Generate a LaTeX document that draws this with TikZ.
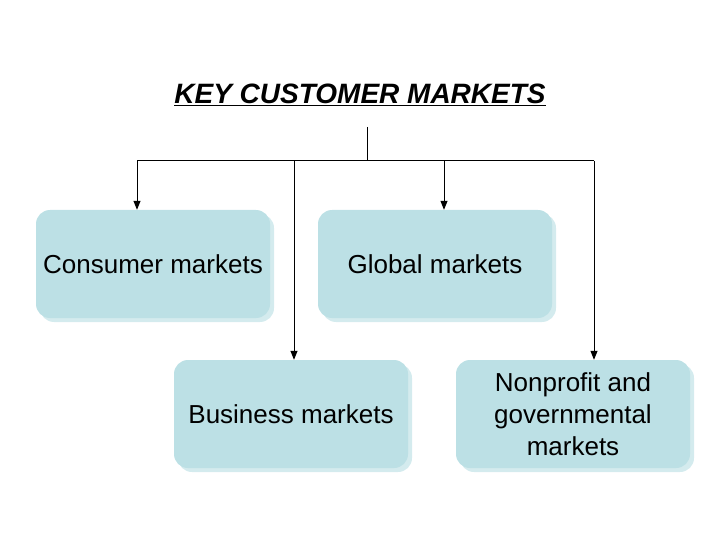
\documentclass[tikz,border=0pt]{standalone}
\usepackage{fontspec}
\setmainfont{Liberation Sans}
\usetikzlibrary{arrows.meta}
\definecolor{boxfill}{HTML}{BCE0E5}
\definecolor{boxshadow}{HTML}{D4EBEE}
\tikzset{
  mbox/.style={fill=boxfill, rounded corners=14pt, minimum width=234pt, minimum height=108pt,
    inner sep=0pt, align=center, font=\fontsize{26}{32}\selectfont, text=black},
  shadowbox/.style={fill=boxshadow, rounded corners=14pt},
  conn/.style={line width=1pt, draw=black},
  arr/.style={conn, -{Triangle[length=9pt,width=7pt]}}
}
\begin{document}
\begin{tikzpicture}[x=1pt,y=-1pt]
\useasboundingbox (0,0) rectangle (720,540);
% title
\node (title) at (360,94.5) {\fontsize{28}{32}\selectfont\bfseries\itshape\underline{KEY CUSTOMER MARKETS}};
% shadows
\fill[shadowbox] (40,214) rectangle (274,322);
\fill[shadowbox] (322,214) rectangle (556,322);
\fill[shadowbox] (178,364) rectangle (412,472);
\fill[shadowbox] (460,364) rectangle (694,472);
% boxes
\node[mbox] (cons) at (153,264) {Consumer markets};
\node[mbox] (glob) at (435,264) {Global markets};
\node[mbox] (bus) at (291,414) {Business markets};
\node[mbox] (nonp) at (573,414) {Nonprofit and\\governmental\\markets};
% connectors
\coordinate (top) at (367,127);
\coordinate (mid) at (367,161);
\coordinate (h1) at (137,161);
\coordinate (h2) at (294,161);
\coordinate (h3) at (444,161);
\coordinate (h4) at (594,161);
\draw[conn] (top) -- (mid);
\draw[conn] (h1) -- (h4);
\draw[arr] (h1) -- (h1 |- cons.north);
\draw[arr] (h2) -- (h2 |- bus.north);
\draw[arr] (h3) -- (h3 |- glob.north);
\draw[arr] (h4) -- (h4 |- nonp.north);
\end{tikzpicture}
\end{document}
